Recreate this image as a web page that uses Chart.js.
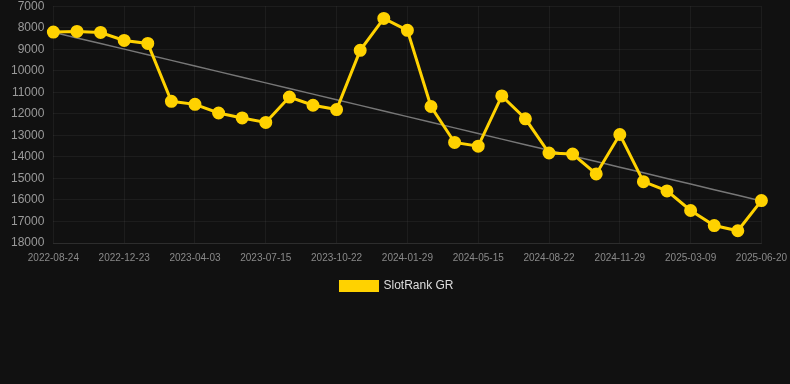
<!DOCTYPE html>
<html>
  <head>
    <title>SlotRank GR</title>
    <script src="https://cdn.jsdelivr.net/npm/chart.js"></script>
    <style>
      body {
        margin: 0;
        padding: 0;
        background: #111111;
        overflow: hidden;
      }
      #chart-container {
        width: 796px;
        height: 401px;
        margin-top: -10px;
      }
    </style>
  </head>
  <body>
    <div id="chart-container">
      <canvas id="rankChart"></canvas>
    </div>
    <script>
      // --- Data ---
      const dates = [
        "2022-08-24", "2022-09-30", "2022-11-15", "2022-12-23", "2023-01-29",
        "2023-03-01", "2023-04-03", "2023-05-08", "2023-06-11", "2023-07-15",
        "2023-08-18", "2023-09-20", "2023-10-22", "2023-11-24", "2023-12-27",
        "2024-01-29", "2024-03-04", "2024-04-10", "2024-05-15", "2024-06-17",
        "2024-07-20", "2024-08-22", "2024-09-24", "2024-10-27", "2024-11-29",
        "2025-01-01", "2025-02-04", "2025-03-09", "2025-04-12", "2025-05-16",
        "2025-06-20"
      ];
      const ranks = [
        8200, 8170, 8220, 8590, 8730,
        11420, 11560, 11960, 12190, 12400,
        11220, 11600, 11800, 9050, 7570,
        8120, 11660, 13330, 13500, 11170,
        12230, 13820, 13870, 14790, 12960,
        15150, 15580, 16490, 17190, 17430,
        16030
      ];
      const seriesName = "SlotRank GR";
      const yMin = 7000;
      const yMax = 18000;
      const yStep = 1000;

      // --- Trend line (least squares over the ranks) ---
      const n = ranks.length;
      const xMean = (n - 1) / 2;
      const yMean = ranks.reduce((a, b) => a + b, 0) / n;
      let num = 0, den = 0;
      ranks.forEach((v, i) => {
        num += (i - xMean) * (v - yMean);
        den += (i - xMean) * (i - xMean);
      });
      const slope = num / den;
      const trend = ranks.map((v, i) => yMean + slope * (i - xMean));

      const FONT = "Arial, 'Liberation Sans', sans-serif";

      const ctx = document.getElementById('rankChart').getContext('2d');
      new Chart(ctx, {
        type: 'line',
        data: {
          labels: dates,
          datasets: [
            {
              label: seriesName,
              data: ranks,
              borderColor: "#ffd200",
              backgroundColor: "#ffd200",
              borderWidth: 3,
              pointRadius: 5,
              pointHoverRadius: 6,
              pointBackgroundColor: "#ffd200",
              pointBorderColor: "#ffd200",
              tension: 0,
              order: 1
            },
            {
              label: "trend",
              data: trend,
              borderColor: "#777777",
              borderWidth: 1.5,
              pointRadius: 0,
              fill: false,
              order: 2
            }
          ]
        },
        options: {
          responsive: true,
          maintainAspectRatio: false,
          animation: false,
          layout: {
            padding: { top: 0, right: 4, bottom: 89, left: 2 }
          },
          plugins: {
            legend: {
              position: 'bottom',
              labels: {
                color: "#dddddd",
                boxWidth: 37,
                boxHeight: 9,
                padding: 7,
                font: { family: FONT, size: 12 },
                filter: item => item.text !== "trend"
              }
            },
            tooltip: { enabled: false }
          },
          scales: {
            x: {
              grid: {
                color: "rgba(255,255,255,0.05)",
                drawTicks: false
              },
              border: { color: "rgba(255,255,255,0.08)" },
              ticks: {
                color: "#8a8a8a",
                font: { family: FONT, size: 10 },
                maxRotation: 0,
                autoSkip: true,
                maxTicksLimit: 11,
                padding: 9
              }
            },
            y: {
              reverse: true,
              min: yMin,
              max: yMax,
              grid: {
                color: "rgba(255,255,255,0.05)",
                drawTicks: false
              },
              border: { display: false },
              ticks: {
                stepSize: yStep,
                color: "#9a9a9a",
                font: { family: FONT, size: 12 },
                padding: 9,
                callback: v => String(v)
              }
            }
          }
        }
      });
    </script>
  </body>
</html>
